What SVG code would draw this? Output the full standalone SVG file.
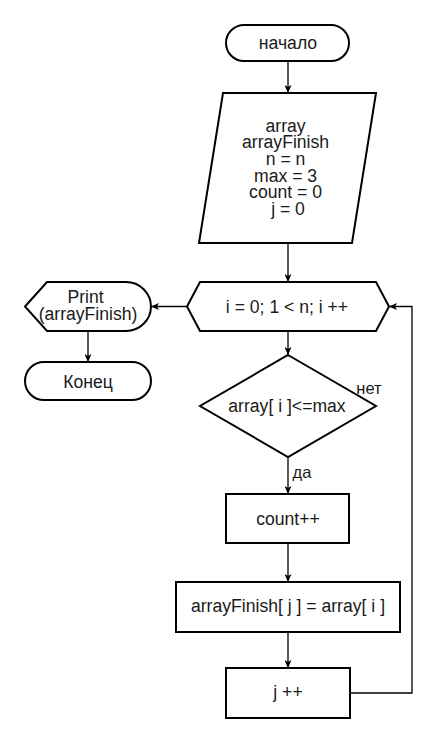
<svg xmlns="http://www.w3.org/2000/svg" width="438" height="744" viewBox="0 0 438 744">
  <style>
    .shape { fill: #ffffff; stroke: #000000; stroke-width: 2; }
    .edge { fill: none; stroke: #000000; stroke-width: 1.3; }
    .label { font-family: "Liberation Sans", Arial, sans-serif; font-size: 17.6px; fill: #1a1a1a; text-anchor: middle; }
    .small { font-family: "Liberation Sans", Arial, sans-serif; font-size: 16.5px; fill: #1a1a1a; text-anchor: middle; }
  </style>
  <defs>
    <marker id="arrow" viewBox="0 0 8 7" refX="8" refY="3.5" markerWidth="8" markerHeight="7" markerUnits="userSpaceOnUse" orient="auto">
      <path d="M0,0 L8,3.5 L0,7 L2,3.5 Z" fill="#000000"/>
    </marker>
  </defs>
  <rect width="438" height="744" fill="#ffffff"/>

  <g id="connectors">
    <line class="edge" x1="288" y1="61" x2="288" y2="93" marker-end="url(#arrow)"/>
    <line class="edge" x1="288" y1="243" x2="288" y2="282" marker-end="url(#arrow)"/>
    <line class="edge" x1="288" y1="331" x2="288" y2="355" marker-end="url(#arrow)"/>
    <line class="edge" x1="288" y1="457" x2="288" y2="494" marker-end="url(#arrow)"/>
    <line class="edge" x1="288" y1="543" x2="288" y2="582" marker-end="url(#arrow)"/>
    <line class="edge" x1="288" y1="632" x2="288" y2="668" marker-end="url(#arrow)"/>
    <polyline class="edge" points="350,693 412,693 412,306.5 389,306.5" marker-end="url(#arrow)"/>
    <line class="edge" x1="187" y1="306.5" x2="151" y2="306.5" marker-end="url(#arrow)"/>
    <line class="edge" x1="88" y1="331" x2="88" y2="362" marker-end="url(#arrow)"/>
    <text class="small" x="369" y="394">нет</text>
    <text class="small" x="302" y="478">да</text>
  </g>

  <g id="start">
    <rect class="shape" x="226" y="25" width="123" height="36" rx="18" ry="18"/>
    <text class="label" x="288" y="49">начало</text>
  </g>

  <g id="init">
    <polygon class="shape" points="223,93 376,93 352,243 199,243"/>
    <text class="label" x="288">
      <tspan x="288" y="131.5">array</tspan>
      <tspan x="288" y="148">arrayFinish</tspan>
      <tspan x="288" y="165">n = n</tspan>
      <tspan x="288" y="181.5">max = 3</tspan>
      <tspan x="288" y="198">count = 0</tspan>
      <tspan x="288" y="215">j = 0</tspan>
    </text>
  </g>

  <g id="loop">
    <polygon class="shape" points="187,306.5 200,282 376,282 389,306.5 376,331 200,331"/>
    <text class="label" x="287" y="313">i = 0; 1 &lt; n; i ++</text>
  </g>

  <g id="print">
    <path class="shape" d="M25,306.5 L47,282 L126,282 A25,24.5 0 0 1 126,331 L47,331 Z"/>
    <text class="label" x="88">
      <tspan x="88" y="302.5">Print</tspan>
      <tspan x="88" y="319.5">(arrayFinish)</tspan>
    </text>
  </g>

  <g id="end">
    <rect class="shape" x="25" y="362" width="126" height="38" rx="19" ry="19"/>
    <text class="label" x="88" y="387.5">Конец</text>
  </g>

  <g id="check">
    <polygon class="shape" points="288,355 376,406 288,457 200,406"/>
    <text class="label" x="287" y="412">array[ i ]&lt;=max</text>
  </g>

  <g id="count">
    <rect class="shape" x="226" y="494" width="123" height="49"/>
    <text class="label" x="288" y="525">count++</text>
  </g>

  <g id="assign">
    <rect class="shape" x="176" y="582" width="224" height="50"/>
    <text class="label" x="288" y="612">arrayFinish[ j ] = array[ i ]</text>
  </g>

  <g id="inc">
    <rect class="shape" x="226" y="668" width="124" height="50"/>
    <text class="label" x="288" y="698">j ++</text>
  </g>
</svg>
